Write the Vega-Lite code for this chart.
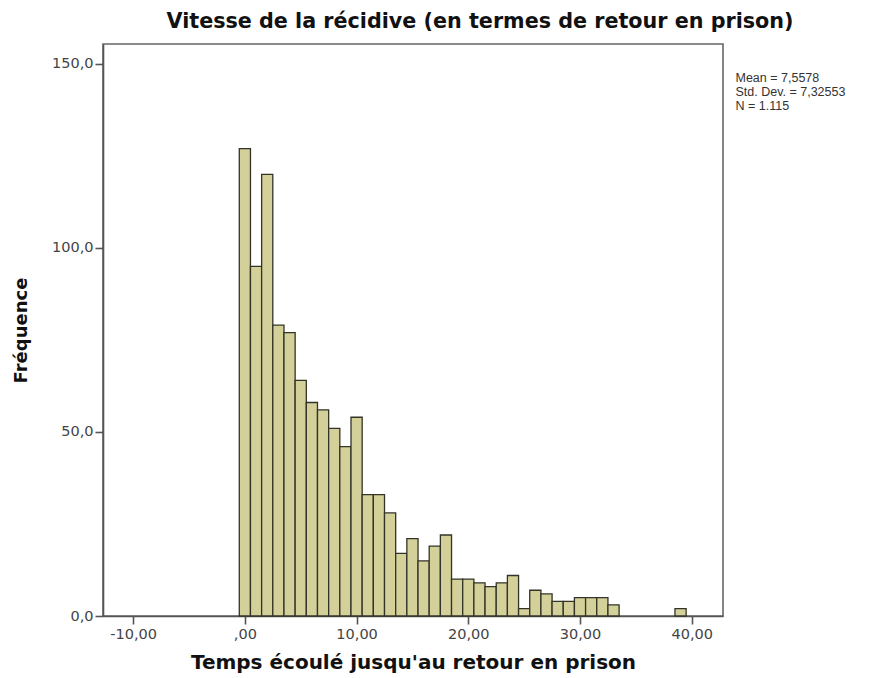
{
  "$schema": "https://vega.github.io/schema/vega-lite/v6.json",
  "width": 620,
  "height": 572,
  "autosize": "none",
  "padding": {"left": 103, "top": 44, "right": 162, "bottom": 62},
  "background": "white",
  "title": {
    "text": "Vitesse de la récidive (en termes de retour en prison)",
    "font": "DejaVu Sans",
    "fontSize": 20.7,
    "fontWeight": "bold",
    "color": "#111111",
    "anchor": "middle",
    "dx": 67,
    "offset": 11
  },
  "config": {
    "locale": {"number": {"decimal": ",", "thousands": ".", "grouping": [3], "currency": ["", ""], "minus": "-"}},
    "view": {"fill": "#f0f0f0", "stroke": "#666666", "strokeWidth": 1.6},
    "axis": {
      "grid": false,
      "domainColor": "#555555",
      "domainWidth": 1.6,
      "tickColor": "#555555",
      "tickWidth": 1.6,
      "tickSize": 8,
      "labelFont": "DejaVu Sans",
      "labelFontSize": 14.5,
      "labelColor": "#444444",
      "titleFont": "DejaVu Sans",
      "titleFontWeight": "bold",
      "titleColor": "#111111"
    }
  },
  "datasets": {
    "hist": [
      {"start": -0.5, "end": 0.5, "count": 127},
      {"start": 0.5, "end": 1.5, "count": 95},
      {"start": 1.5, "end": 2.5, "count": 120},
      {"start": 2.5, "end": 3.5, "count": 79},
      {"start": 3.5, "end": 4.5, "count": 77},
      {"start": 4.5, "end": 5.5, "count": 64},
      {"start": 5.5, "end": 6.5, "count": 58},
      {"start": 6.5, "end": 7.5, "count": 56},
      {"start": 7.5, "end": 8.5, "count": 51},
      {"start": 8.5, "end": 9.5, "count": 46},
      {"start": 9.5, "end": 10.5, "count": 54},
      {"start": 10.5, "end": 11.5, "count": 33},
      {"start": 11.5, "end": 12.5, "count": 33},
      {"start": 12.5, "end": 13.5, "count": 28},
      {"start": 13.5, "end": 14.5, "count": 17},
      {"start": 14.5, "end": 15.5, "count": 21},
      {"start": 15.5, "end": 16.5, "count": 15},
      {"start": 16.5, "end": 17.5, "count": 19},
      {"start": 17.5, "end": 18.5, "count": 22},
      {"start": 18.5, "end": 19.5, "count": 10},
      {"start": 19.5, "end": 20.5, "count": 10},
      {"start": 20.5, "end": 21.5, "count": 9},
      {"start": 21.5, "end": 22.5, "count": 8},
      {"start": 22.5, "end": 23.5, "count": 9},
      {"start": 23.5, "end": 24.5, "count": 11},
      {"start": 24.5, "end": 25.5, "count": 2},
      {"start": 25.5, "end": 26.5, "count": 7},
      {"start": 26.5, "end": 27.5, "count": 6},
      {"start": 27.5, "end": 28.5, "count": 4},
      {"start": 28.5, "end": 29.5, "count": 4},
      {"start": 29.5, "end": 30.5, "count": 5},
      {"start": 30.5, "end": 31.5, "count": 5},
      {"start": 31.5, "end": 32.5, "count": 5},
      {"start": 32.5, "end": 33.5, "count": 3},
      {"start": 38.5, "end": 39.5, "count": 2}
    ],
    "stats": [
      {"stat": "Mean = 7,5578"},
      {"stat": "Std. Dev. = 7,32553"},
      {"stat": "N = 1.115"}
    ]
  },
  "layer": [
    {
      "data": {"name": "hist"},
      "mark": {"type": "bar", "fill": "#d4d09a", "stroke": "#333328", "strokeWidth": 1.3},
      "encoding": {
        "x": {
          "field": "start", "type": "quantitative",
          "scale": {"domain": [-12.7, 42.8], "nice": false, "zero": false},
          "axis": {
            "values": [-10, 0, 10, 20, 30, 40],
            "format": ".2f",
            "labelExpr": "datum.value === 0 ? ',00' : datum.label",
            "title": "Temps écoulé jusqu'au retour en prison",
            "titleFontSize": 20,
            "titlePadding": 12,
            "labelPadding": 3
          }
        },
        "x2": {"field": "end"},
        "y": {
          "field": "count", "type": "quantitative",
          "scale": {"domain": [0, 155.4], "nice": false},
          "axis": {
            "values": [0, 50, 100, 150],
            "format": ".1f",
            "title": "Fréquence",
            "titleFontSize": 18,
            "titlePadding": 21,
            "labelPadding": 2
          }
        },
        "y2": {"datum": 0}
      }
    },
    {
      "data": {"name": "stats"},
      "mark": {"type": "point", "opacity": 0},
      "encoding": {
        "color": {
          "field": "stat", "type": "nominal",
          "scale": {"domain": ["Mean = 7,5578", "Std. Dev. = 7,32553", "N = 1.115"], "range": ["#333333", "#333333", "#333333"]},
          "legend": {
            "title": null,
            "orient": "none",
            "legendX": 620,
            "legendY": 28,
            "symbolSize": 0,
            "symbolStrokeWidth": 0,
            "symbolOpacity": 0,
            "labelOffset": 0,
            "labelFont": "Liberation Sans",
            "labelFontSize": 12.5,
            "labelColor": "#333333",
            "rowPadding": 1,
            "padding": 0
          }
        }
      }
    }
  ]
}
